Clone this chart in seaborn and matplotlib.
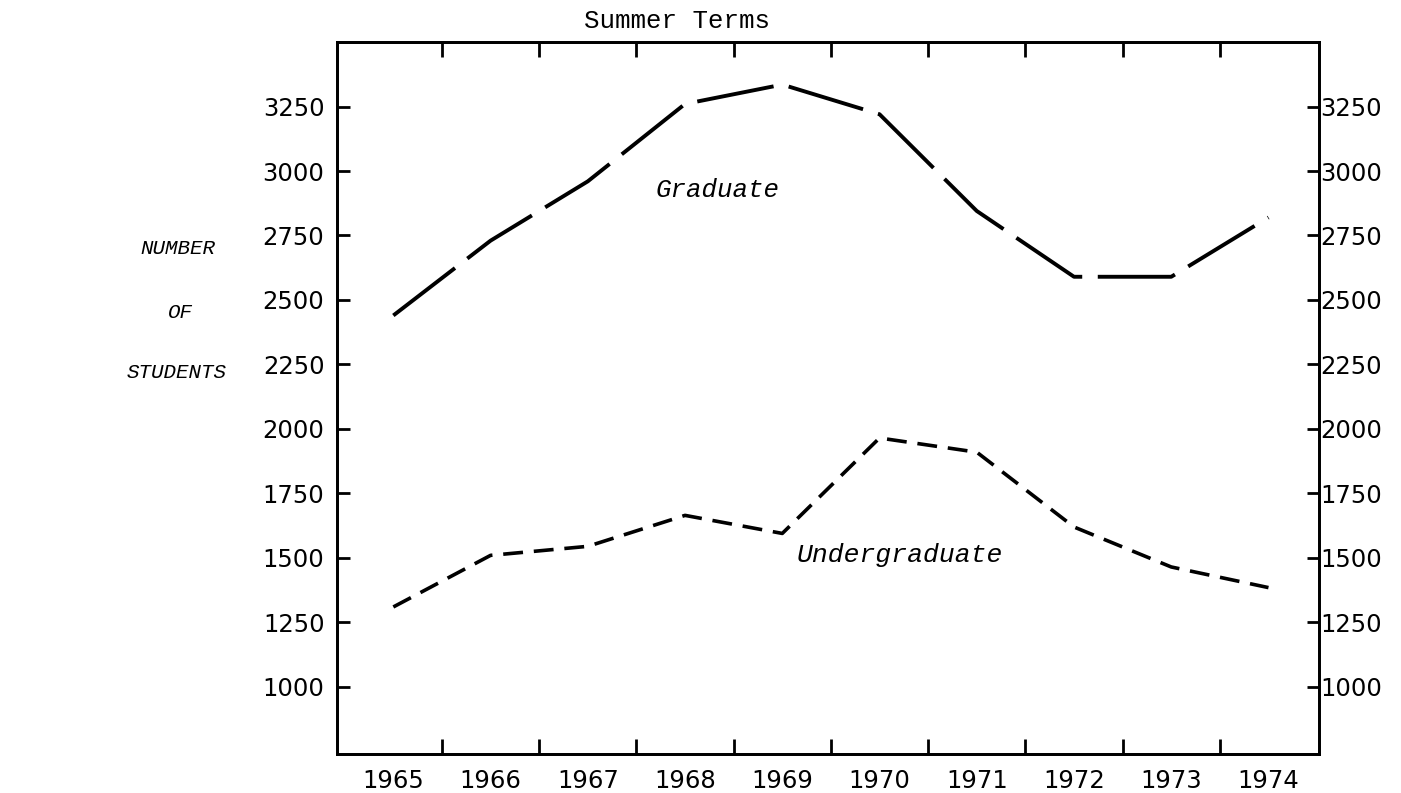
import matplotlib

matplotlib.use("Agg")
import matplotlib.pyplot as plt
import seaborn as sns

# summer term enrolment
years = [1965, 1966, 1967, 1968, 1969, 1970, 1971, 1972, 1973, 1974]
graduate = [2440, 2730, 2960, 3260, 3335, 3220, 2845, 2590, 2590, 2820]
undergraduate = [1310, 1510, 1545, 1665, 1595, 1965, 1910, 1620, 1465, 1385]
y_ticks = [1000, 1250, 1500, 1750, 2000, 2250, 2500, 2750, 3000, 3250]

sns.set_style("white")
plt.rcParams["font.family"] = ["DejaVu Sans"]
plt.rcParams["text.color"] = "black"
plt.rcParams["xtick.color"] = "black"
plt.rcParams["ytick.color"] = "black"

fig = plt.figure(figsize=(14.01, 7.93), dpi=100)
ax = fig.add_axes([0.2405, 0.0492, 0.701, 0.8978])

sns.lineplot(x=years, y=graduate, ax=ax, color="black", linewidth=2.8,
             linestyle=(0, (20, 4)))
sns.lineplot(x=years, y=undergraduate, ax=ax, color="black", linewidth=2.6,
             linestyle=(0, (5.5, 3)))

ax.set_xlim(1964.42, 1974.52)
ax.set_ylim(740, 3500)

# year labels without marks, tick marks between years on top and bottom
ax.set_xticks(years)
ax.set_xticklabels([str(y) for y in years])
ax.set_xticks([y + 0.5 for y in years[:-1]], minor=True)
ax.tick_params(axis="x", which="major", length=0, pad=11, labelsize=17.5)
ax.tick_params(axis="x", which="minor", direction="in", length=11, width=2,
               top=True, bottom=True)

ax.set_yticks(y_ticks)
ax.tick_params(axis="y", which="major", direction="in", length=9, width=2,
               pad=9, labelsize=17.5)

ax2 = ax.twinx()
ax2.set_ylim(ax.get_ylim())
ax2.set_yticks(y_ticks)
ax2.tick_params(axis="y", direction="in", length=9, width=2, pad=1,
                labelsize=17.5)

for a in (ax, ax2):
    for sp in a.spines.values():
        sp.set_visible(True)
        sp.set_linewidth(2)
        sp.set_color("black")

ax.set_xlabel("")
ax.set_ylabel("")
ax2.set_ylabel("")

mono = ["Liberation Mono", "DejaVu Sans Mono"]
mono_it = dict(family=mono, style="italic", color="black")
ax.text(1968.33, 2928, "Graduate", fontsize=18.5, ha="center", va="center",
        **mono_it)
ax.text(1970.21, 1513, "Undergraduate", fontsize=19, ha="center",
        va="center", **mono_it)

ax.text(0.346, 1.012, "Summer Terms", transform=ax.transAxes, fontsize=18.5,
        ha="center", va="bottom", family=mono)

fig.text(178 / 1401, 1 - 248 / 793, "NUMBER", fontsize=15, ha="center",
         va="center", **mono_it)
fig.text(180 / 1401, 1 - 312 / 793, "OF", fontsize=15, ha="center",
         va="center", **mono_it)
fig.text(177 / 1401, 1 - 372 / 793, "STUDENTS", fontsize=15, ha="center",
         va="center", **mono_it)

fig.savefig("out.png", dpi=100, facecolor="white")
plt.close(fig)
